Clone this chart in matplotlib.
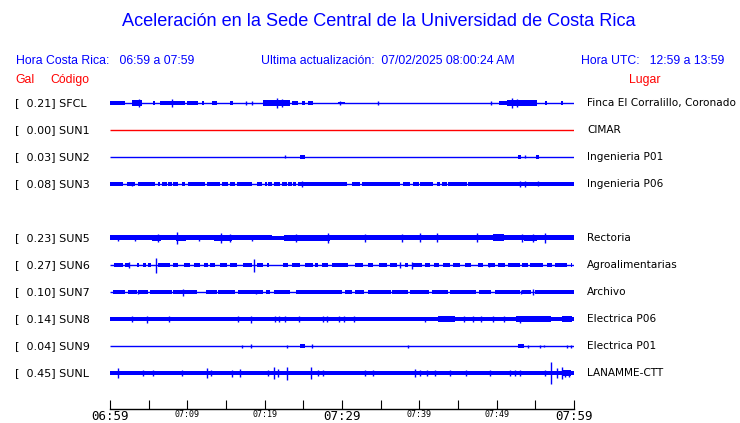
import matplotlib.pyplot as plt

# station list (SUN4 slot is empty in the display)
codes = ['SFCL', 'SUN1', 'SUN2', 'SUN3', 'SUN5', 'SUN6', 'SUN7', 'SUN8', 'SUN9', 'SUNL']
gal = [0.21, 0.00, 0.03, 0.08, 0.23, 0.27, 0.10, 0.14, 0.04, 0.45]
places = ['Finca El Corralillo, Coronado', 'CIMAR', 'Ingenieria P01', 'Ingenieria P06',
          'Rectoria', 'Agroalimentarias', 'Archivo', 'Electrica P06', 'Electrica P01',
          'LANAMME-CTT']
rows = [0, 1, 2, 3, 5, 6, 7, 8, 9, 10]

tick_minutes = [0, 5, 10, 15, 20, 25, 30, 35, 40, 45, 50, 55, 60]
tick_labels = ['06:59', '', '07:09', '', '07:19', '', '07:29', '', '07:39', '', '07:49', '', '07:59']

# bursts: (start min, end min, half amplitude) ; spikes: (min, half amplitude)
sfcl_bursts = [(0, 1.9, 1.8), (2.8, 4.1, 3.2), (5.6, 5.8, 1.8), (6.5, 9.7, 2.2), (10.0, 11.4, 1.8),
               (11.9, 12.2, 1.8), (13.2, 13.8, 1.8), (15.5, 15.9, 1.6), (19.8, 23.3, 2.7),
               (23.5, 24.3, 1.8), (24.8, 25.2, 1.8), (25.6, 26.2, 1.8), (29.5, 30.4, 1.4),
               (50.3, 51.3, 1.8), (51.3, 55.2, 3.2), (56.2, 56.5, 1.8), (58.3, 58.6, 1.8)]
sfcl_spikes = [(3.75, 4.2), (8.0, 3.7), (21.6, 4.7), (22.3, 4.2), (52.0, 5.2), (52.6, 4.2),
               (17.6, 1.8), (18.4, 1.8), (29.8, 1.8), (34.6, 1.8), (49.3, 1.8)]

sun1_bursts = []
sun1_spikes = []

sun2_bursts = [(24.6, 25.2, 1.8), (52.7, 53.2, 1.8), (55.1, 55.5, 1.8)]
sun2_spikes = [(22.6, 1.5), (53.6, 1.5)]

sun3_bursts = [(0, 1.7, 1.6), (2.2, 3.2, 1.6), (3.6, 5.8, 1.6), (6.2, 6.5, 1.6), (6.7, 7.4, 1.6),
               (7.5, 8.0, 1.6), (8.2, 8.8, 1.6), (9.3, 9.7, 1.6), (10.1, 12.3, 1.6),
               (12.5, 14.2, 1.6), (14.5, 15.3, 1.6), (15.5, 16.2, 1.6), (16.4, 18.4, 1.6),
               (19.0, 19.7, 1.6), (20.0, 20.3, 1.6), (20.4, 21.0, 1.6), (21.2, 22.0, 1.6),
               (22.2, 22.9, 1.6), (23.0, 23.5, 1.6), (23.7, 24.0, 1.6), (24.3, 30.7, 1.6),
               (31.3, 32.3, 1.6), (32.6, 37.5, 1.6), (37.9, 38.8, 1.6), (39.2, 39.9, 1.6),
               (40.1, 41.8, 1.6), (42.3, 42.7, 1.6), (42.9, 43.6, 1.6), (43.7, 46.2, 1.6),
               (46.3, 60, 1.6)]
sun3_spikes = [(24.8, 3), (53.0, 3), (53.6, 3), (55.3, 2.5), (2.9, 2)]

sun5_bursts = [(0, 21.0, 2.5), (21.0, 22.5, 1.6), (22.5, 60, 2.5), (5.4, 6.6, 3.2),
               (8.5, 9.8, 3.2), (13.5, 15.8, 3.2), (22.5, 28.5, 3.2), (49.5, 51.0, 3.5),
               (53.5, 55.2, 3.2)]
sun5_spikes = [(6.2, 4), (8.7, 6), (14.4, 5), (15.5, 4), (24.1, 4), (28.2, 5), (33.0, 4),
               (37.8, 4), (40.1, 4.5), (42.3, 4.5), (47.5, 4.5), (53.3, 4), (54.7, 4), (56.3, 5),
               (1.0, 3.2), (3.2, 3.2), (11.5, 3.4), (18.3, 3.4)]

sun6_bursts = [(0.5, 1.7, 1.7), (1.9, 2.6, 2.0), (3.5, 3.7, 1.7), (4.3, 4.7, 1.7), (4.9, 5.3, 1.7),
               (6.2, 7.8, 1.7), (8.1, 8.8, 1.7), (9.6, 10.3, 1.7), (10.9, 11.6, 1.7),
               (12.2, 12.7, 1.7), (12.9, 13.6, 1.7), (14.2, 15.1, 1.7), (15.5, 16.4, 1.7),
               (17.2, 18.4, 1.7), (19.0, 19.8, 1.7), (20.3, 20.6, 1.7), (22.4, 23.0, 1.7),
               (23.5, 24.6, 1.7), (25.2, 26.2, 1.7), (26.5, 26.9, 1.7), (27.4, 28.2, 1.7),
               (28.7, 30.8, 1.7), (31.7, 32.7, 1.7), (33.4, 34.0, 1.7), (34.8, 35.8, 1.7),
               (36.2, 37.1, 1.7), (38.1, 38.5, 1.7), (39.2, 40.3, 1.7), (40.7, 41.4, 1.7),
               (41.9, 42.5, 1.7), (43.1, 44.0, 1.7), (44.3, 45.3, 1.7), (45.9, 46.7, 1.7),
               (47.6, 48.2, 1.7), (48.9, 49.8, 1.7), (50.2, 51.1, 1.7), (51.5, 53.0, 1.7),
               (53.3, 54.0, 1.7), (54.3, 56.0, 1.7), (56.5, 57.2, 1.7), (57.5, 59.1, 1.7),
               (59.6, 59.8, 1.7)]
sun6_spikes = [(2.4, 2.7), (5.95, 7.5), (18.6, 6.5), (37.5, 3), (39.0, 3.5), (49.0, 2.4)]

sun7_bursts = [(0.4, 2.0, 1.6), (2.3, 3.5, 1.6), (3.6, 4.9, 1.6), (5.2, 8.0, 1.6), (8.2, 9.4, 1.6),
               (9.6, 11.2, 1.6), (12.4, 13.8, 1.6), (14.0, 16.2, 1.6), (16.6, 19.8, 1.6),
               (20.2, 20.7, 1.6), (21.2, 23.3, 1.6), (24.1, 30.0, 1.6), (30.4, 31.3, 1.6),
               (31.7, 32.9, 1.6), (33.4, 36.3, 1.6), (36.5, 38.5, 1.6), (38.8, 41.2, 1.6),
               (41.7, 43.7, 1.6), (44.0, 47.3, 1.6), (47.7, 49.3, 1.6), (49.8, 53.0, 1.6),
               (53.3, 54.5, 1.6), (55.0, 60, 1.6)]
sun7_spikes = [(3.6, 2.2), (9.5, 3.5), (18.9, 2.2), (53.1, 2.2), (54.7, 3)]

sun8_bursts = [(0, 60, 2.0), (42.4, 44.6, 2.6), (52.5, 53.6, 3.4), (53.6, 57.0, 2.6),
               (58.4, 59.8, 3.2)]
sun8_spikes = [(2.8, 2.7), (4.8, 3.5), (7.6, 2.7), (16.5, 2.7), (18.2, 3.5), (21.3, 3),
               (21.8, 3), (22.6, 2.7), (24.4, 2.7), (27.5, 3), (28.1, 3), (29.6, 3), (30.2, 2.7),
               (31.6, 2.7), (40.7, 2.5), (45.8, 2.7), (47.0, 2.7), (48.0, 2.7), (49.5, 2.7),
               (51.0, 2.7), (53.0, 3.5)]

sun9_bursts = [(24.6, 25.2, 1.7), (52.7, 53.5, 1.7)]
sun9_spikes = [(17.1, 1.5), (18.2, 2), (22.9, 1.5), (26.1, 2), (38.5, 1.5), (54.1, 1.5),
               (55.6, 1.5), (56.1, 1.2), (59.1, 1.5), (59.6, 1.5)]

sunl_bursts = [(0, 60, 2.0), (58.6, 59.6, 3)]
sunl_spikes = [(1.0, 5), (4.3, 3), (5.6, 2.7), (9.3, 2.7), (12.5, 5), (13.1, 3), (15.8, 3.5),
               (16.8, 4), (20.4, 3), (21.2, 6), (21.7, 4), (22.9, 6.5), (26.0, 6), (26.9, 3),
               (27.5, 3), (33.0, 2.7), (34.0, 3), (39.5, 4), (40.1, 3), (41.0, 3), (42.0, 2.7),
               (44.0, 2.7), (46.0, 2.7), (49.1, 2.7), (51.7, 3), (52.4, 3), (53.0, 2.7),
               (56.3, 3), (57.0, 11), (57.8, 5), (58.4, 5.5), (58.8, 3.5), (59.3, 3.5)]

all_bursts = [sfcl_bursts, sun1_bursts, sun2_bursts, sun3_bursts, sun5_bursts, sun6_bursts,
              sun7_bursts, sun8_bursts, sun9_bursts, sunl_bursts]
all_spikes = [sfcl_spikes, sun1_spikes, sun2_spikes, sun3_spikes, sun5_spikes, sun6_spikes,
              sun7_spikes, sun8_spikes, sun9_spikes, sunl_spikes]

BLUE = '#0000ff'
RED = '#ff0000'
W, H = 740, 423
ROW_PX = 27.0  # pixels between traces

fig = plt.figure(figsize=(W / 100, H / 100), dpi=100)

# header texts
hdr = ['Liberation Sans', 'DejaVu Sans']
fig.text(378.5 / W, 1 - 22 / H, 'Aceleración en la Sede Central de la Universidad de Costa Rica',
         color=BLUE, fontsize=13.1, family=hdr, ha='center', va='center')
fig.text(15.5 / W, 1 - 61 / H, 'Hora Costa Rica:   06:59 a 07:59', color=BLUE, fontsize=8.8,
         family=hdr, va='center')
fig.text(261 / W, 1 - 61 / H, 'Ultima actualización:  07/02/2025 08:00:24 AM', color=BLUE,
         fontsize=8.8, family=hdr, va='center')
fig.text(724 / W, 1 - 61 / H, 'Hora UTC:   12:59 a 13:59', color=BLUE, fontsize=8.8,
         family=hdr, va='center', ha='right')
fig.text(15.5 / W, 1 - 80 / H, 'Gal', color=RED, fontsize=8.8, family=hdr, va='center')
fig.text(50.5 / W, 1 - 80 / H, 'Código', color=RED, fontsize=8.8, family=hdr, va='center')
fig.text(661 / W, 1 - 80 / H, 'Lugar', color=RED, fontsize=8.8, family=hdr, va='center',
         ha='right')

# trace axes: x in minutes, y in trace rows (row 0 at y=103px)
top_px, bot_px = 90, 409
x0_px, x1_px = 110, 574
ax = fig.add_axes([x0_px / W, 1 - bot_px / H, (x1_px - x0_px) / W, (bot_px - top_px) / H])
ax.set_xlim(0, 60)
ax.set_ylim((bot_px - 103) / ROW_PX, (top_px - 103) / ROW_PX)
for s in ['top', 'left', 'right']:
    ax.spines[s].set_visible(False)
ax.spines['bottom'].set_linewidth(1)
ax.set_yticks([])
ax.set_xticks(tick_minutes)
ax.set_xticklabels(tick_labels)
ax.tick_params(axis='x', direction='in', length=6.5, width=0.8, pad=0.5)
for lbl, m in zip(ax.get_xticklabels(), tick_minutes):
    lbl.set_family('DejaVu Sans Mono')
    lbl.set_fontsize(9 if m % 30 == 0 else 6)

for code, g, place, r, bursts, spikes in zip(codes, gal, places, rows, all_bursts, all_spikes):
    col = RED if code == 'SUN1' else BLUE
    ax.plot([0, 60], [r, r], color=col, lw=1.0, solid_capstyle='butt')
    for t0, t1, hw in bursts:
        ax.bar(t0, 2 * hw / ROW_PX, width=t1 - t0, bottom=r - hw / ROW_PX, align='edge',
               color=col, linewidth=0)
    for t, hw in spikes:
        ax.vlines(t, r - hw / ROW_PX, r + hw / ROW_PX, color=col, lw=1.0)
    y_fig = 1 - (103 + r * ROW_PX) / H
    fig.text(15 / W, y_fig, '[%6.2f] %s' % (g, code), fontsize=8, family='DejaVu Sans',
             va='center')
    fig.text(587 / W, y_fig, place, fontsize=7.6, family='DejaVu Sans', va='center')

fig.savefig('out.png', dpi=100)
